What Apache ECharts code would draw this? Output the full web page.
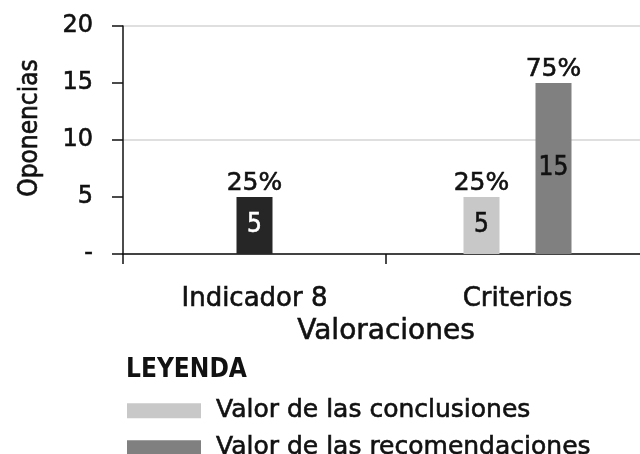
<!DOCTYPE html>
<html>
<head>
<meta charset="utf-8">
<script src="https://cdn.jsdelivr.net/npm/echarts@6/dist/echarts.min.js"></script>
<style>html,body{margin:0;padding:0;background:#fff;}#c{width:640px;height:454px;}</style>
</head>
<body>
<div id="c"></div>
<script>
const categories = ['Indicador 8', 'Criterios'];
const conclusiones = [null, 5];
const indicador = [5, null];
const recomendaciones = [null, 15];
const pctConclusiones = [null, '25%'];
const pctIndicador = ['25%', null];
const pctRecomendaciones = [null, '75%'];
const legendNames = ['Valor de las conclusiones', 'Valor de las recomendaciones'];

const SANS = '"DejaVu Sans", sans-serif';
const COND = '"DejaVu Sans Condensed", "DejaVu Sans", sans-serif';
const NARROW = '"Liberation Sans Narrow", "DejaVu Sans Condensed", sans-serif';
const INK = '#111';
const HEAVY = {textBorderColor: INK, textBorderWidth: 0.6};
const chart = echarts.init(document.getElementById('c'), null, {renderer: 'canvas'});

function pctSeries(stack, pcts) {
  return {
    type: 'bar', stack: stack, barWidth: 36, barGap: '0%',
    data: pcts.map(p => p == null ? null : 0),
    itemStyle: {color: 'transparent'},
    silent: true,
    label: Object.assign({show: true, position: 'top', distance: 1, color: INK, fontSize: 25, fontFamily: SANS,
      formatter: (p) => pcts[p.dataIndex]}, HEAVY)
  };
}
function legendFor(name, top) {
  return {
    data: [name], orient: 'vertical', left: 122, top: top,
    itemWidth: 74, itemHeight: 15, icon: 'rect',
    textStyle: Object.assign({fontFamily: SANS, fontSize: 25, lineHeight: 25, color: INK, padding: [0, 0, 0, 10]}, HEAVY)
  };
}

chart.setOption({
  animation: false,
  backgroundColor: '#fff',
  title: {text: 'LEYENDA', left: 121, top: 352,
    textStyle: {fontFamily: NARROW, fontWeight: 'bold', fontSize: 26, color: INK}},
  legend: [legendFor(legendNames[0], 393), legendFor(legendNames[1], 430)],
  grid: {left: 123, width: 526, top: 26, bottom: 200, containLabel: false, outerBoundsMode: 'none'},
  xAxis: {
    type: 'category', data: categories,
    name: 'Valoraciones', nameLocation: 'middle', nameGap: 56,
    nameTextStyle: Object.assign({fontFamily: SANS, fontSize: 28, color: INK}, HEAVY),
    axisLine: {lineStyle: {color: INK, width: 1.5}},
    axisTick: {show: true, length: 10, lineStyle: {color: INK, width: 1.5}},
    axisLabel: Object.assign({margin: 32, fontFamily: SANS, fontSize: 26, color: INK}, HEAVY)
  },
  yAxis: [{
    type: 'value', min: 0, max: 20, interval: 5,
    name: 'Oponencias', nameLocation: 'middle', nameGap: 80,
    nameTextStyle: Object.assign({fontFamily: COND, fontSize: 26, color: INK, padding: [0, 0, 0, 24]}, HEAVY),
    axisLine: {show: true, lineStyle: {color: INK, width: 1.5}},
    axisTick: {show: true, length: 11, lineStyle: {color: INK, width: 1.5}},
    axisLabel: Object.assign({margin: 30, fontFamily: SANS, fontSize: 24, color: INK,
      formatter: (v) => v === 0 ? '-' : String(v)}, HEAVY),
    splitLine: {show: false}
  }, {
    type: 'value', min: 0, max: 20, interval: 10, position: 'left',
    axisLine: {show: false}, axisTick: {show: false}, axisLabel: {show: false},
    splitLine: {show: true, lineStyle: {color: '#d4d4d4', width: 1.5}}
  }],
  series: [
    {name: legendNames[0], type: 'bar', stack: 'a', barWidth: 36, barGap: '0%',
      data: conclusiones, itemStyle: {color: '#c8c8c8'},
      label: Object.assign({show: true, position: 'inside', color: INK, fontSize: 26, fontFamily: COND}, HEAVY)},
    pctSeries('a', pctConclusiones),
    {name: 'Indicador 8', type: 'bar', stack: 'b', barWidth: 36, barGap: '0%',
      data: indicador, itemStyle: {color: '#262626'},
      label: {show: true, position: 'inside', color: '#fff', fontSize: 26, fontFamily: COND,
        textBorderColor: '#fff', textBorderWidth: 0.6}},
    pctSeries('b', pctIndicador),
    {name: legendNames[1], type: 'bar', stack: 'c', barWidth: 36, barGap: '0%',
      data: recomendaciones, itemStyle: {color: '#808080'},
      label: Object.assign({show: true, position: 'inside', color: INK, fontSize: 26, fontFamily: COND}, HEAVY)},
    pctSeries('c', pctRecomendaciones)
  ]
});
</script>
</body>
</html>
